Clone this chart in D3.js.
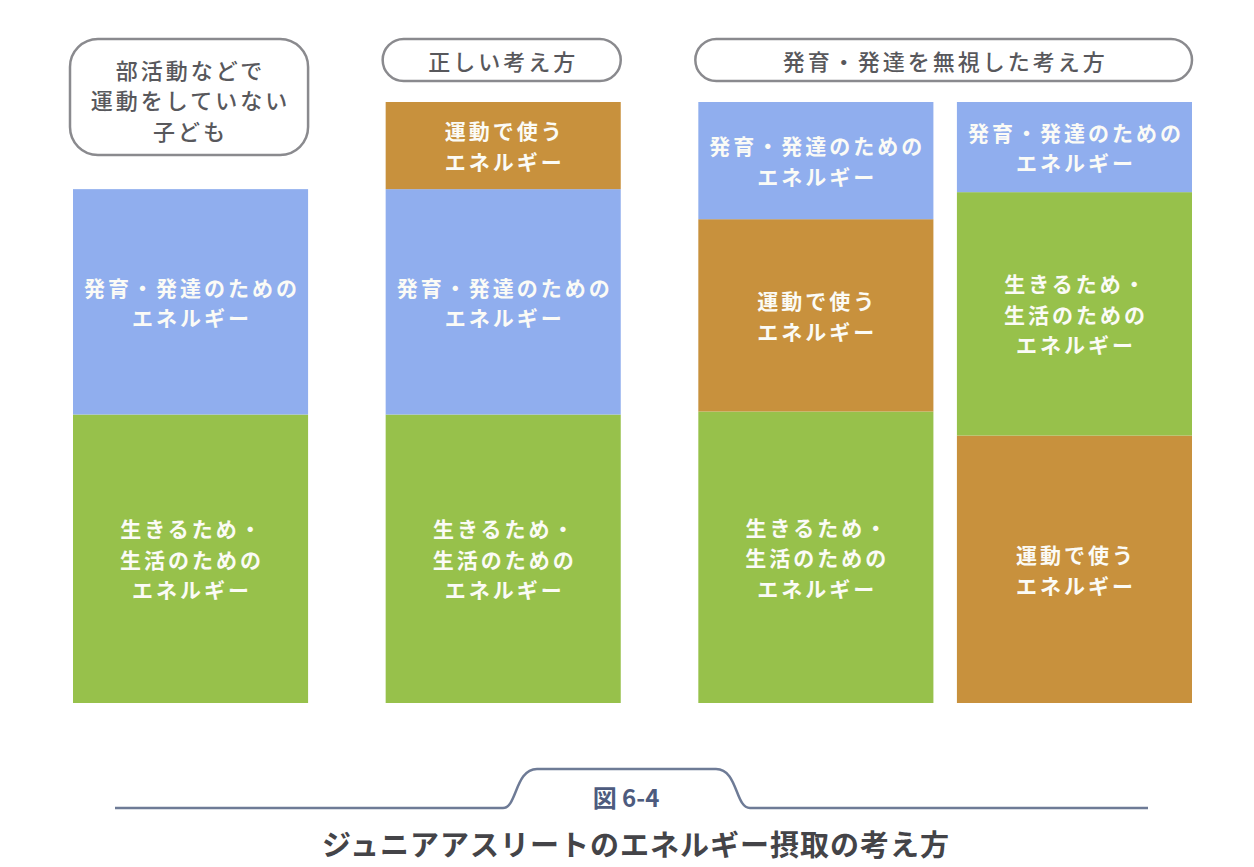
<!DOCTYPE html>
<html>
<head>
<meta charset="utf-8">
<script src="https://cdn.jsdelivr.net/npm/d3@7"></script>
<style>
    html, body { margin: 0; padding: 0; background: #ffffff; }
</style>
</head>
<body>
<div id="chart"></div>
<script>
// group headers (one rounded box per group)
var groupHeaders = [
    ['部活動などで', '運動をしていない', '子ども'],
    ['正しい考え方'],
    ['発育・発達を無視した考え方']
];
var groupBarCounts = [1, 1, 2];

// energy categories
var energyKeys = ['life', 'growth', 'sport'];
var energyLabels = {
    life: ['生きるため・', '生活のための', 'エネルギー'],
    growth: ['発育・発達のための', 'エネルギー'],
    sport: ['運動で使う', 'エネルギー']
};
var energyColors = {life: '#97c14b', growth: '#90aeee', sport: '#c8913d'};

// stacks, bottom to top, in share of the full bar (0-100)
var barOrder = [
    ['life', 'growth'],
    ['life', 'growth', 'sport'],
    ['life', 'sport', 'growth'],
    ['sport', 'life', 'growth']
];
var barValues = [
    [48, 37.5],
    [48, 37.5, 14.5],
    [48.5, 32, 19.5],
    [44.5, 40.5, 15]
];

var figureNumber = '図 6-4';
var figureTitle = 'ジュニアアスリートのエネルギー摂取の考え方';

var width = 1254, height = 867;
var font = '"Noto Sans CJK JP", "Noto Sans", sans-serif';
var lineHeight = 30.5;

var svg = d3.select('#chart').append('svg')
        .attr('width', width)
        .attr('height', height);

// horizontal layout in "bar units": bar = 1, inner gap, group gap
var innerGap = 0.1, groupGap = 0.33;
var slots = [], cursor = 0;
groupBarCounts.forEach(function(n, g){
    var start = cursor;
    for (var i = 0; i < n; i++) {
        slots.push({group: g, x0: cursor});
        cursor += 1 + (i < n - 1 ? innerGap : 0);
    }
    groupHeaders[g].span = [start, cursor];
    cursor += groupGap;
});
var totalUnits = cursor - groupGap;

var x = d3.scaleLinear().domain([0, totalUnits]).range([73, 1192]);
var y = d3.scaleLinear().domain([0, 100]).range([703, 102]);

// writes a multi-line label, one <text> per line, centred on (cx, cy)
var addLines = function(parent, lines, cx, cy, style, color){
    lines.forEach(function(line, i){
        parent.append('text')
                .attr('x', cx)
                .attr('y', cy + (i - (lines.length - 1) / 2) * lineHeight)
                .attr('text-anchor', 'middle')
                .attr('dominant-baseline', 'central')
                .style('font', style)
                .style('letter-spacing', '3px')
                .attr('fill', color)
                .text(line);
    });
};

// stacked bars
var bars = svg.append('g').attr('class', 'bars');

barOrder.forEach(function(order, b){
    var base = 0;
    var segs = order.map(function(key, i){
        var s = {key: key, y0: base, y1: base + barValues[b][i]};
        base = s.y1;
        return s;
    });

    var g = bars.append('g');
    var x0 = x(slots[b].x0), x1 = x(slots[b].x0 + 1);

    g.selectAll('rect')
            .data(segs)
            .enter().append('rect')
            .attr('x', x0)
            .attr('width', x1 - x0)
            .attr('y', function(d){ return y(d.y1); })
            .attr('height', function(d){ return y(d.y0) - y(d.y1); })
            .attr('fill', function(d){ return energyColors[d.key]; });

    segs.forEach(function(d){
        addLines(g, energyLabels[d.key], (x0 + x1) / 2 + 1.5, (y(d.y0) + y(d.y1)) / 2,
                '700 21px ' + font, '#fbfbf6');
    });
});

// header boxes
var headers = svg.append('g').attr('class', 'headers');
groupHeaders.forEach(function(lines, g){
    var hx0 = x(lines.span[0]) - 3, hx1 = x(lines.span[1]);
    var multi = lines.length > 1;
    var top = 39, h = multi ? 116 : 42;
    var r = multi ? 28 : 21;

    headers.append('rect')
            .attr('x', hx0)
            .attr('y', top)
            .attr('width', hx1 - hx0)
            .attr('height', h)
            .attr('rx', r)
            .attr('ry', r)
            .attr('fill', '#ffffff')
            .attr('stroke', '#8a8a8e')
            .attr('stroke-width', 2.5);

    addLines(headers, lines, (hx0 + hx1) / 2 + 1.5, top + h / 2 + (multi ? 2 : 0),
            '500 22px ' + font, '#58585c');
});

// figure caption
var caption = svg.append('g').attr('class', 'caption');
var ly = 808, tabTop = 769;
caption.append('path')
        .attr('d', 'M115,' + ly + ' L503,' + ly +
                ' C517,' + ly + ' 515,' + tabTop + ' 537,' + tabTop +
                ' L716,' + tabTop +
                ' C738,' + tabTop + ' 735,' + ly + ' 750,' + ly +
                ' L1148,' + ly)
        .attr('fill', 'none')
        .attr('stroke', '#6e7b96')
        .attr('stroke-width', 2.5);

caption.append('text')
        .attr('x', 626)
        .attr('y', 796)
        .attr('text-anchor', 'middle')
        .attr('dominant-baseline', 'central')
        .style('font', '700 24px ' + font)
        .attr('fill', '#4d5b7e')
        .text(figureNumber);

caption.append('text')
        .attr('x', 636)
        .attr('y', 843)
        .attr('text-anchor', 'middle')
        .attr('dominant-baseline', 'central')
        .style('font', '700 29px ' + font)
        .style('letter-spacing', '1px')
        .attr('fill', '#444448')
        .text(figureTitle);
</script>
</body>
</html>
